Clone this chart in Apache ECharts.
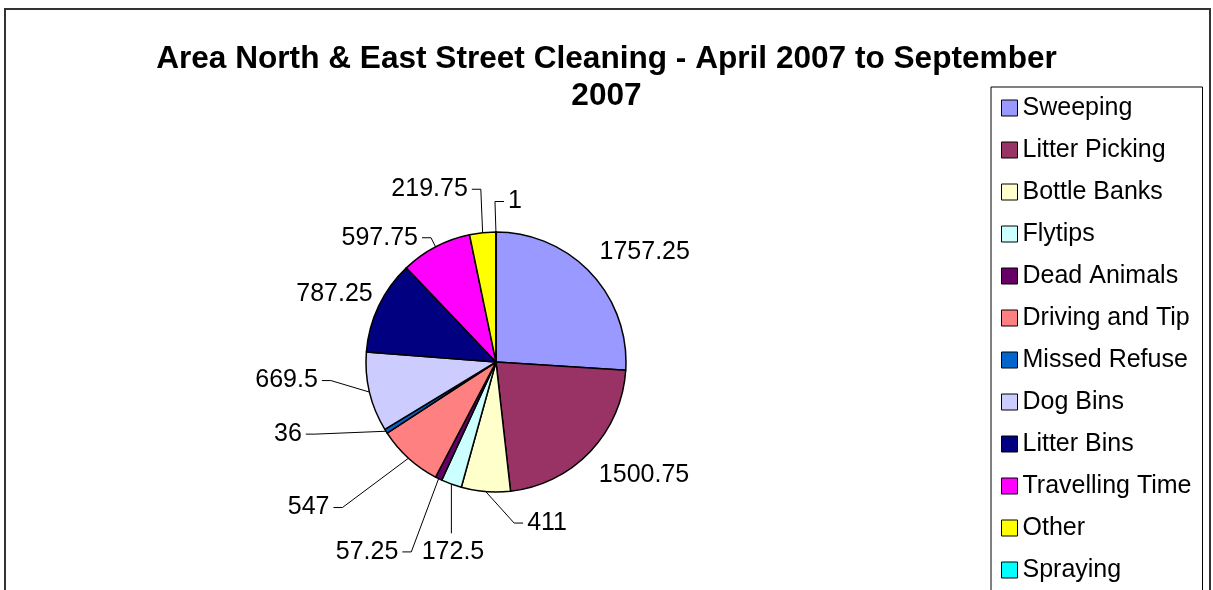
<!DOCTYPE html>
<html>
<head>
<meta charset="utf-8">
<script src="https://cdn.jsdelivr.net/npm/echarts@6/dist/echarts.min.js"></script>
<style>
  html, body { margin: 0; padding: 0; background: #fff; }
  #chart { width: 1213px; height: 590px; }
</style>
</head>
<body>
<div id="chart"></div>
<script>
// 分类与数值
var categories = ["Sweeping", "Litter Picking", "Bottle Banks", "Flytips", "Dead Animals",
  "Driving and Tip", "Missed Refuse", "Dog Bins", "Litter Bins", "Travelling Time", "Other", "Spraying"];
var hours = [1757.25, 1500.75, 411, 172.5, 57.25, 547, 36, 669.5, 787.25, 597.75, 219.75, 1];
// Excel 默认配色
var colors = ["#9999FF", "#993366", "#FFFFCC", "#CCFFFF", "#660066", "#FF8080",
  "#0066CC", "#CCCCFF", "#000080", "#FF00FF", "#FFFF00", "#00FFFF"];
// 原图中被手动拖开的标签偏移 (px)
var labelShift = [[0, 0], [0, 3], [67, 7], [37, 44], [-35, 50], [-71, 28],
  [-74, -16], [-40, -23], [5, 6], [-12, 14], [-40, -19], [19, -6]];

var pieCenter = [496, 362];
var pieRadius = 130;
var labelGap = 12;

var chart = echarts.init(document.getElementById("chart"));
var font = "'Liberation Sans', Arial, sans-serif";

// 每块扇区的中间角度（从正上方顺时针）
var total = hours.reduce(function (a, b) { return a + b; }, 0);
var midAngles = [];
var acc = 0;
for (var k = 0; k < hours.length; k++) {
  midAngles.push((acc + hours[k] / 2) / total * Math.PI * 2);
  acc += hours[k];
}

function isMoved(i) {
  return Math.abs(labelShift[i][0]) + Math.abs(labelShift[i][1]) > 15;
}

var pieData = [];
for (var i = 0; i < categories.length; i++) {
  pieData.push({
    name: categories[i],
    value: hours[i],
    itemStyle: { color: colors[i] },
    labelLine: { show: isMoved(i) }
  });
}

function clamp(v) { return Math.max(-1, Math.min(1, v)); }

var option = {
  backgroundColor: "#fff",
  animation: false,
  title: {
    text: "Area North & East Street Cleaning - April 2007 to September\n2007",
    left: "center",
    top: 36,
    textStyle: {
      fontFamily: font,
      fontSize: 31.6,
      fontWeight: "bold",
      color: "#000",
      lineHeight: 37
    }
  },
  legend: {
    orient: "vertical",
    left: 991,
    top: 87,
    height: 700,
    data: categories,
    icon: "rect",
    itemWidth: 16,
    itemHeight: 16,
    itemGap: 14,
    padding: [7, 11, 10, 10],
    borderColor: "#000",
    borderWidth: 1,
    itemStyle: { borderColor: "#000", borderWidth: 1 },
    textStyle: { fontFamily: font, fontSize: 25, color: "#000", lineHeight: 28 }
  },
  graphic: [{
    type: "rect",
    shape: { x: 5, y: 9, width: 1205, height: 700 },
    style: { fill: "none", stroke: "#333", lineWidth: 2 },
    silent: true
  }],
  series: [{
    type: "pie",
    center: pieCenter,
    radius: pieRadius,
    startAngle: 90,
    clockwise: true,
    avoidLabelOverlap: false,
    data: pieData,
    itemStyle: { borderColor: "#000", borderWidth: 1.5 },
    label: {
      show: true,
      position: "outside",
      formatter: "{c}",
      fontFamily: font,
      fontSize: 25,
      lineHeight: 25,
      color: "#000"
    },
    labelLine: {
      length: 10,
      length2: 5,
      lineStyle: { color: "#000", width: 1 }
    },
    labelLayout: function (params) {
      var i = params.dataIndex;
      var dx = Math.sin(midAngles[i]), dy = -Math.cos(midAngles[i]);
      var w = params.labelRect.width, h = params.labelRect.height;
      var R = pieRadius + labelGap;
      var cx = pieCenter[0] + R * dx + w / 2 * clamp(3 * dx) + labelShift[i][0];
      var cy = pieCenter[1] + R * dy + h / 2 * clamp(3 * dy) + labelShift[i][1];
      var res = { x: cx, y: cy, align: "center", verticalAlign: "middle" };
      if (isMoved(i)) {
        var ex = pieCenter[0] + pieRadius * dx, ey = pieCenter[1] + pieRadius * dy;
        var left = cx - w / 2, right = cx + w / 2, top = cy - h / 2;
        if (right < ex) {
          res.labelLinePoints = [[ex, ey], [right + 13, cy], [right + 4, cy]];
        } else if (left > ex) {
          res.labelLinePoints = [[ex, ey], [left - 13, cy], [left - 4, cy]];
        } else {
          res.labelLinePoints = [[ex, ey], [ex, top - 6], [ex, top - 6]];
        }
      }
      return res;
    },
    emphasis: { disabled: true }
  }]
};

chart.setOption(option);
</script>
</body>
</html>
